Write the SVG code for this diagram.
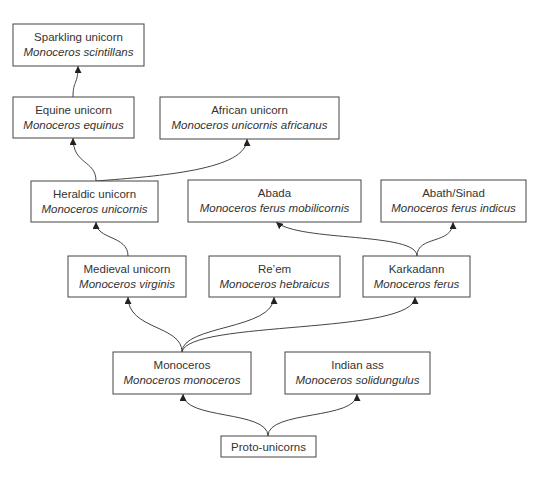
<svg xmlns="http://www.w3.org/2000/svg" width="539" height="480" viewBox="0 0 539 480">
<defs>
<marker id="ah" viewBox="0 0 10 10" refX="10" refY="5" markerWidth="7" markerHeight="7" markerUnits="userSpaceOnUse" orient="auto">
<path d="M0,0 L10,5 L0,10 z" fill="#222"/>
</marker>
<style>
.box{fill:#fff;stroke:#444;stroke-width:1}
.t{font-family:"Liberation Sans",Arial,sans-serif;font-size:11.5px;fill:#333;text-anchor:middle}
.i{font-style:italic}
.c{fill:none;stroke:#444;stroke-width:1;marker-end:url(#ah)}
</style>
</defs>
<rect width="539" height="480" fill="#fff"/>
<g id="connectors">
<path class="c" d="M268,436 C268,410 183,420 183,394"/>
<path class="c" d="M268,436 C268,410 357,420 357,394"/>
<path class="c" d="M182,352 C182,325 128,330 128,297"/>
<path class="c" d="M182,352 C182,325 274,330 274,297"/>
<path class="c" d="M182,352 C188,320 415,335 415,297"/>
<path class="c" d="M128,256 C128,235 96,240 96,222"/>
<path class="c" d="M96,181 C96,160 73,165 73,138"/>
<path class="c" d="M96,181 C160,176 247,170 247,139"/>
<path class="c" d="M73,97 C73,80 78,85 78,66"/>
<path class="c" d="M417,256 C417,232 300,242 276,222"/>
<path class="c" d="M417,256 C417,235 453,245 453,222"/>
</g>
<g id="sparkling"><rect class="box" x="13" y="24" width="131" height="42"/><text class="t" x="78.5" y="41">Sparkling unicorn</text><text class="t i" x="78.5" y="56">Monoceros scintillans</text></g>
<g id="equine"><rect class="box" x="13" y="97" width="121" height="41"/><text class="t" x="73.5" y="114">Equine unicorn</text><text class="t i" x="73.5" y="129">Monoceros equinus</text></g>
<g id="african"><rect class="box" x="160" y="97" width="179" height="42"/><text class="t" x="249.5" y="114">African unicorn</text><text class="t i" x="249.5" y="129">Monoceros unicornis africanus</text></g>
<g id="heraldic"><rect class="box" x="31" y="181" width="127" height="41"/><text class="t" x="94.5" y="198">Heraldic unicorn</text><text class="t i" x="94.5" y="213">Monoceros unicornis</text></g>
<g id="abada"><rect class="box" x="188" y="180" width="173" height="42"/><text class="t" x="274.5" y="197">Abada</text><text class="t i" x="274.5" y="212">Monoceros ferus mobilicornis</text></g>
<g id="abath"><rect class="box" x="381" y="180" width="145" height="42"/><text class="t" x="453.5" y="197">Abath/Sinad</text><text class="t i" x="453.5" y="212">Monoceros ferus indicus</text></g>
<g id="medieval"><rect class="box" x="68" y="256" width="118" height="41"/><text class="t" x="127" y="273">Medieval unicorn</text><text class="t i" x="127" y="288">Monoceros virginis</text></g>
<g id="reem"><rect class="box" x="209" y="256" width="131" height="41"/><text class="t" x="274.5" y="273">Re’em</text><text class="t i" x="274.5" y="288">Monoceros hebraicus</text></g>
<g id="karkadann"><rect class="box" x="363" y="256" width="107" height="41"/><text class="t" x="416.5" y="273">Karkadann</text><text class="t i" x="416.5" y="288">Monoceros ferus</text></g>
<g id="monoceros"><rect class="box" x="113" y="352" width="138" height="42"/><text class="t" x="182" y="369">Monoceros</text><text class="t i" x="182" y="384">Monoceros monoceros</text></g>
<g id="indianass"><rect class="box" x="285" y="352" width="145" height="42"/><text class="t" x="357.5" y="369">Indian ass</text><text class="t i" x="357.5" y="384">Monoceros solidungulus</text></g>
<g id="protounicorns"><rect class="box" x="221" y="436" width="95" height="21"/><text class="t" x="268.5" y="450.5">Proto-unicorns</text></g>
</svg>
